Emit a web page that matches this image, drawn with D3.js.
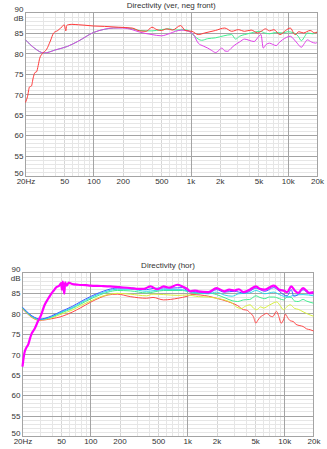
<!DOCTYPE html>
<html>
<head>
<meta charset="utf-8">
<script src="https://cdn.jsdelivr.net/npm/d3@7"></script>
<style>
body { margin: 0; background: #fff; }
svg text { font-family: "Liberation Sans", Arial, sans-serif; font-size: 8px; fill: #333; }
</style>
</head>
<body>
<svg id="chart" width="327" height="449"></svg>
<script>
// tick labels
var xTicks = [20, 50, 100, 200, 500, 1000, 2000, 5000, 10000, 20000];
var xLabels = ["20Hz", "50", "100", "200", "500", "1k", "2k", "5k", "10k", "20k"];
var yTicks = [50, 55, 60, 65, 70, 75, 80, 85, 90];

// top chart: vertical directivity (freq Hz, dB)
var topRed = [[20,68],[21,69.5],[22,71.8],[23,72],[24,74],[25,75.3],[26,75.5],[27,77],[28,78.8],[30,80],[33,81],[36,83],[39,85],[43,85.6],[46,86.2],[48,86.6],[50,87],[51,86.3],[52,85.5],[53,86.8],[55,87],[60,87.1],[70,87],[80,86.9],[100,86.7],[130,86.6],[180,86.4],[250,86.2],[300,85.5],[350,85.4],[400,86.4],[450,85.8],[500,85.6],[570,86],[650,85.7],[790,86.8],[880,85.6],[1030,85.4],[1200,84.6],[1400,85],[1800,85.6],[2250,86.2],[2650,85.4],[3100,85.8],[3600,85.4],[4200,85.7],[4900,85],[5400,85.5],[5900,86],[6500,85.5],[7200,85.8],[8300,84.6],[9500,85.6],[10600,86.2],[11900,84.6],[13000,85.3],[14500,85],[17000,85.6],[19000,85],[20000,85.2]];
var topGreen = [[20,83.3],[25,81.2],[31,80.1],[40,80.8],[54,81.7],[70,83],[100,85.1],[130,85.9],[160,86.2],[200,86.3],[250,86],[300,85.6],[400,85.5],[500,85.8],[600,86],[700,85.7],[885,85.8],[1000,85.2],[1100,84.2],[1300,83.2],[1500,83.6],[1800,83.8],[2200,84.3],[2650,84.6],[2900,83.5],[3200,84.2],[3600,84.6],[4200,85],[5200,85.4],[5800,85],[6500,84.8],[7500,85.1],[8800,85],[10000,85.3],[11600,85],[12800,84.2],[13800,83.1],[15000,84.2],[15900,85],[18000,84.8],[20000,85.2]];
var topMagenta = [[20,83.3],[22,82.3],[25,81.2],[28,80.4],[31,80.1],[35,80.3],[40,80.8],[54,81.7],[70,83],[100,85.1],[130,85.9],[160,86.2],[200,86.2],[250,85.8],[300,85.2],[400,84.6],[500,84.3],[600,84.8],[700,85.4],[815,85.7],[950,85.4],[1070,84.6],[1200,82.5],[1350,81.8],[1500,81.3],[1650,80.7],[1810,80.2],[1950,80.7],[2100,81.3],[2250,80.6],[2400,80.5],[2600,81.2],[2800,81.9],[3200,82.8],[3600,83.5],[4000,83.2],[4500,82.9],[4900,83.8],[5300,84.6],[5600,81.3],[6000,82.2],[6500,82.5],[7000,82.2],[7600,81.9],[8200,82.7],[8800,83.3],[9700,83.9],[10600,84.2],[11500,83.5],[12500,82.5],[13800,81.5],[14800,82.4],[15900,83.3],[17500,82.8],[19400,82.5],[20000,82.7]];

// bottom chart: horizontal directivity (freq Hz, dB)
var botMagenta = [[20,67],[20.5,69],[21,70.5],[21.8,71.5],[23,72.5],[24,74],[25,75.2],[26,75.8],[27,76.5],[28.8,78],[31,79.5],[33.7,82],[37,83.7],[39.5,84.8],[42,85.6],[44.6,86.4],[48,86.8],[50,87.4],[51,85.8],[52,87.8],[53,86.2],[54,84.8],[55,87.6],[57,86.8],[60,87.5],[65,87.2],[75,87],[90,86.9],[100,86.8],[130,86.7],[160,86.6],[200,86.4],[258,86.2],[300,86],[356,86],[418,86.6],[490,85.9],[570,86.6],[650,86.3],[790,87],[890,86.6],[1000,86],[1070,85.4],[1200,85.6],[1300,85.4],[1650,85.2],[2000,86.2],[2400,85.4],[2700,85.8],[3050,85.6],[3400,85.9],[3800,85.2],[4400,85.8],[5100,86.6],[5600,86],[6300,85.8],[7000,86.3],[7800,86.8],[8900,85.8],[10000,85.5],[10700,85.2],[11800,86.6],[12800,85.6],[13900,85],[15600,86.2],[17000,85.5],[18100,85],[20000,85.2]];
var botBlue = [[20,81.5],[22,80.5],[25,79.4],[28,78.8],[30,78.6],[34,78.8],[40,79.4],[50,80.5],[65,81.7],[80,82.9],[100,84.1],[125,85.1],[152,85.8],[190,86.2],[258,86.2],[380,85.8],[443,86.1],[570,86.2],[700,86.2],[890,86.3],[1000,85.6],[1300,85.2],[1650,85],[2000,85.8],[2400,85.2],[3050,85.4],[3800,85],[4400,85.4],[5100,86.2],[6300,85.4],[7800,86.3],[8900,85.4],[9800,84.6],[10700,84.3],[11800,85.8],[12500,84.2],[13900,84.6],[15600,85.8],[18100,84.8],[20000,84.8]];
var botCyan = [[20,81.4],[22,80.4],[25,79.3],[28,78.7],[30,78.5],[34,78.7],[40,79.2],[50,80.3],[65,81.4],[80,82.6],[100,83.8],[125,84.8],[152,85.5],[190,85.9],[258,85.9],[380,85.4],[570,85.8],[890,85.8],[1000,85.4],[1300,85],[1650,84.8],[2000,85.2],[2400,84.5],[2900,84.2],[3400,84.8],[4400,85],[5100,85.6],[6300,84.8],[7800,85.2],[8900,84.6],[10700,84],[12500,84.4],[15600,84.6],[20000,84.3]];
var botGreen = [[20,81.3],[22,80.3],[25,79.2],[28,78.6],[30,78.5],[34,78.6],[40,79.1],[50,80.1],[65,81.2],[80,82.3],[100,83.5],[125,84.5],[152,85.2],[190,85.6],[258,85.5],[380,85],[570,85.6],[890,85.6],[1000,85.4],[1300,84.8],[1650,85],[2000,84.6],[2500,83.7],[2900,83.1],[3300,82.9],[3800,83.3],[4400,83.4],[5100,84.3],[5600,83.9],[6300,83.6],[7000,84],[7800,84],[8900,83.6],[9800,83.3],[10700,84],[11800,83.9],[12800,83],[13900,82.9],[15600,83.4],[17000,83],[20000,82.5]];
var botYellow = [[20,81.2],[22,80.2],[25,79.1],[28,78.5],[30,78.4],[34,78.5],[40,78.9],[50,79.8],[65,80.8],[80,81.9],[100,83],[125,84],[152,84.6],[190,84.9],[258,84.7],[380,84.3],[443,84.7],[570,84.6],[800,84.4],[1000,84.5],[1300,84.1],[1650,84],[2000,83.7],[2400,83.3],[2900,82.5],[3240,81.5],[3600,81.2],[4000,81.8],[4450,82.1],[4800,81.3],[5200,80.9],[5700,81.6],[6100,81.3],[7000,82],[8350,82.8],[9000,82],[9800,80.9],[10500,81.5],[11500,82.1],[12800,81.2],[13900,81],[15600,80.4],[16900,80],[18500,79.6],[20000,79.3]];
var botRed = [[20,81.1],[22,80.1],[25,79],[28,78.4],[30,78.3],[34,78.4],[40,78.7],[50,79.2],[65,80.3],[80,81.4],[100,82.7],[125,83.8],[152,84.5],[190,84.7],[258,84.1],[380,83.7],[443,83.9],[570,83.3],[800,83.7],[1000,84.2],[1120,84.6],[1650,84.2],[2000,83.7],[2300,83.3],[2900,82.5],[3300,81.9],[3800,80.9],[4100,80.8],[4400,80.2],[4800,79.2],[5100,77.6],[5300,78.2],[5600,79],[6000,79.5],[6600,80],[7100,79.4],[7600,79.2],[8300,80.5],[8700,79.5],[9300,77.6],[9800,78.4],[10300,79.8],[10800,79],[11500,78.2],[12400,78],[13200,77.3],[14500,77],[15600,76.8],[17000,76.2],[18500,76],[20000,75.7]];

var svg = d3.select("#chart");

var drawChart = function(box, title, series) {
  var g, x, y, minorX, minorY, line, k;
  g = svg.append("g");
  x = d3.scaleLog().domain([20, 20000]).range([box.left, box.right]);
  y = d3.scaleLinear().domain([50, 90]).range([box.bottom, box.top]);

  minorX = [];
  [10, 100, 1000, 10000].forEach(function(d) {
    for (k = 2; k <= 9; k++) {
      if (d * k > 20 && d * k < 20000) minorX.push(d * k);
    }
  });
  minorY = d3.range(51, 90).filter(function(d) { return d % 5 !== 0; });

  // light grid
  g.append("g").attr("transform", "translate(0," + box.top + ")")
    .call(d3.axisBottom(x).tickValues(minorX).tickSize(box.bottom - box.top).tickFormat(""))
    .call(function(a) {
      a.select(".domain").remove();
      a.selectAll("line").attr("stroke", function(d) {
        return (String(d)[0] === "5" || String(d)[0] === "2") ? "#d6d6d6" : "#e6e6e6";
      }).attr("shape-rendering", "crispEdges");
    });
  g.append("g").attr("transform", "translate(" + box.left + ",0)")
    .call(d3.axisRight(y).tickValues(minorY).tickSize(box.right - box.left).tickFormat(""))
    .call(function(a) {
      a.select(".domain").remove();
      a.selectAll("line").attr("stroke", "#e6e6e6").attr("shape-rendering", "crispEdges");
    });
  // major grid
  g.append("g").attr("transform", "translate(0," + box.top + ")")
    .call(d3.axisBottom(x).tickValues([100, 1000, 10000]).tickSize(box.bottom - box.top).tickFormat(""))
    .call(function(a) {
      a.select(".domain").remove();
      a.selectAll("line").attr("stroke", "#a4a4a4").attr("shape-rendering", "crispEdges");
    });
  g.append("g").attr("transform", "translate(" + box.left + ",0)")
    .call(d3.axisRight(y).tickValues([55, 60, 65, 70, 75, 80, 85]).tickSize(box.right - box.left).tickFormat(""))
    .call(function(a) {
      a.select(".domain").remove();
      a.selectAll("line").attr("stroke", "#a4a4a4").attr("shape-rendering", "crispEdges");
    });
  g.append("rect")
    .attr("x", box.left).attr("y", box.top)
    .attr("width", box.right - box.left).attr("height", box.bottom - box.top)
    .attr("fill", "none").attr("stroke", "#a4a4a4").attr("shape-rendering", "crispEdges");

  // curves
  line = d3.line()
    .x(function(d) { return x(d[0]); })
    .y(function(d) { return y(d[1]); })
    .curve(d3.curveMonotoneX);
  series.forEach(function(s) {
    g.append("path").datum(s.data)
      .attr("d", line)
      .attr("fill", "none")
      .attr("stroke", s.color)
      .attr("stroke-width", s.width)
      .attr("stroke-linejoin", "round");
  });

  // x labels
  g.append("g").attr("transform", "translate(0," + (box.bottom + 8) + ")")
    .call(d3.axisBottom(x).tickValues(xTicks).tickSize(0).tickPadding(0)
      .tickFormat(function(d, i) { return xLabels[i]; }))
    .call(function(a) {
      a.select(".domain").remove();
      a.selectAll("text").attr("dy", 0).attr("fill", "#333")
        .style("font-family", "'Liberation Sans', Arial, sans-serif").style("font-size", "8px");
    });
  // y labels
  g.append("g").attr("transform", "translate(" + (box.left - 2) + ",0)")
    .call(d3.axisLeft(y).tickValues(yTicks).tickSize(0).tickPadding(0))
    .call(function(a) {
      a.select(".domain").remove();
      a.selectAll("text").attr("fill", "#333")
        .attr("dy", function(d) { return d === 90 ? "-0.1em" : (d === 50 ? "-0.05em" : "0.35em"); })
        .style("font-family", "'Liberation Sans', Arial, sans-serif").style("font-size", "8px");
    });
  g.append("text")
    .attr("x", box.left - 2).attr("y", y(90) + 8.5)
    .attr("text-anchor", "end")
    .text("dB");

  g.append("text")
    .attr("x", (box.left + box.right) / 2).attr("y", box.top - 5)
    .attr("text-anchor", "middle")
    .text(title);
};

drawChart({left: 25.5, right: 317, top: 12.5, bottom: 176}, "Directivity (ver, neg front)", [
  {data: topGreen, color: "#40f090", width: 1},
  {data: topMagenta, color: "#e040e8", width: 1},
  {data: topRed, color: "#ff3a3a", width: 1}
]);

drawChart({left: 22.5, right: 313.5, top: 272.5, bottom: 436}, "Directivity (hor)", [
  {data: botRed, color: "#ff4a4a", width: 1},
  {data: botYellow, color: "#d8f040", width: 1},
  {data: botGreen, color: "#40f090", width: 1},
  {data: botCyan, color: "#30d8e8", width: 1},
  {data: botBlue, color: "#4060ff", width: 1},
  {data: botMagenta, color: "#ff00ff", width: 2.2}
]);
</script>
</body>
</html>
